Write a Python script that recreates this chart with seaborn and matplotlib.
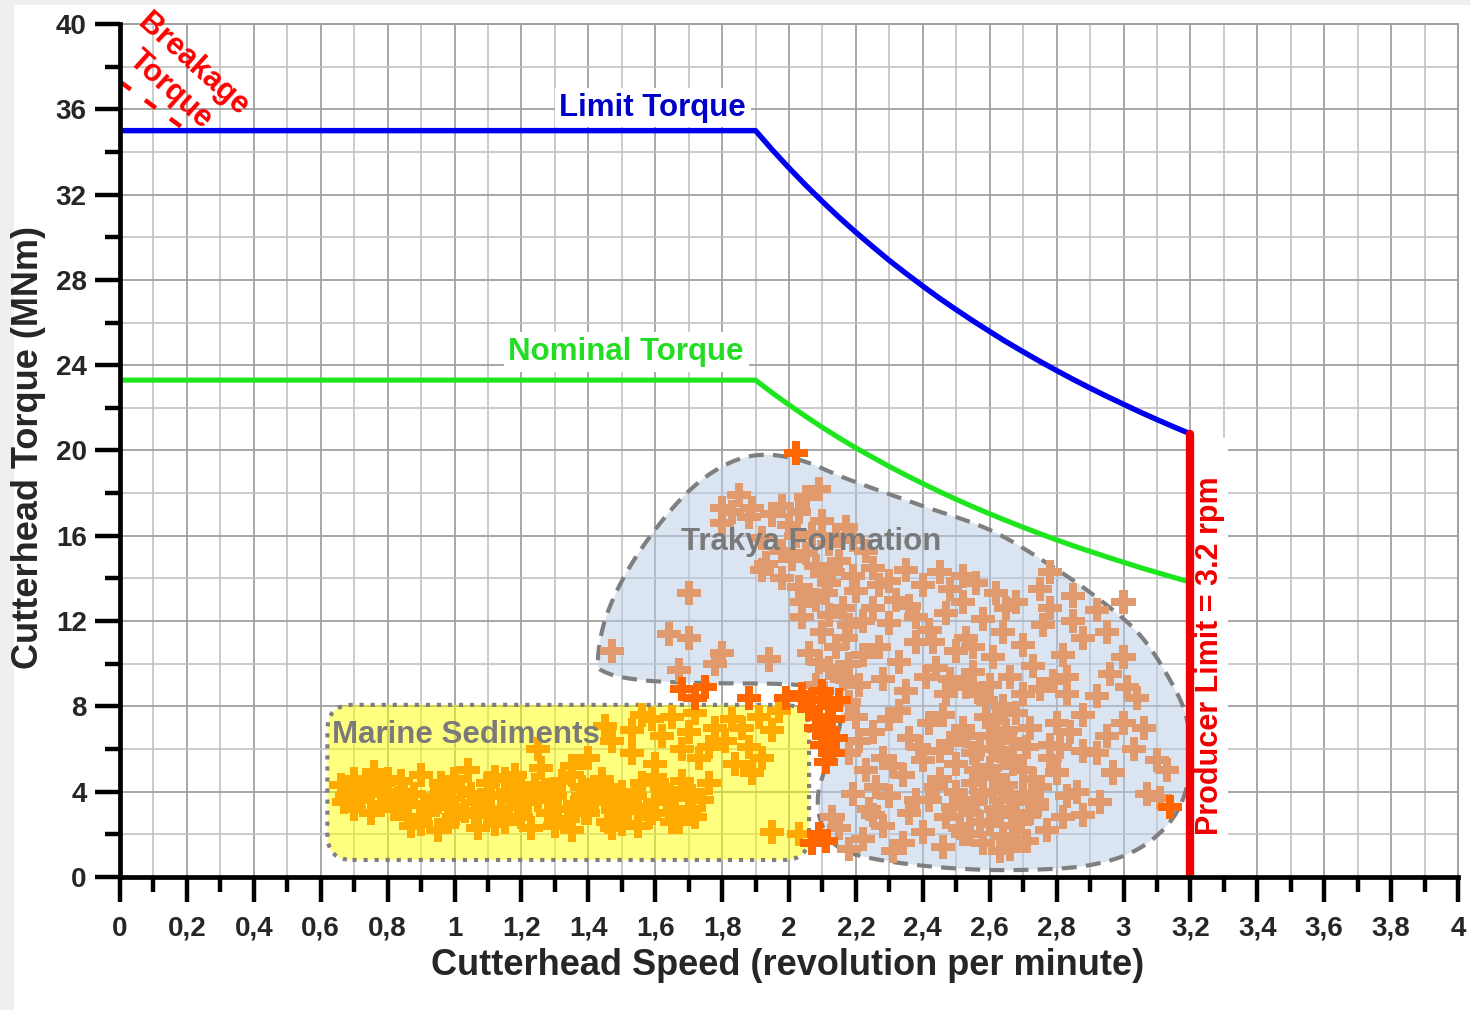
import numpy as np
import pandas as pd
import matplotlib
matplotlib.use("Agg")
import matplotlib.pyplot as plt
import seaborn as sns
from matplotlib.patches import FancyBboxPatch, Polygon, Rectangle
from matplotlib.ticker import FixedLocator, MultipleLocator

# ---------------- data ----------------
limit_x = [0.0, 1.9, 1.95, 2.0, 2.05, 2.1, 2.15, 2.2, 2.25, 2.3, 2.35, 2.4, 2.45, 2.5, 2.55, 2.6,
           2.65, 2.7, 2.75, 2.8, 2.85, 2.9, 2.95, 3.0, 3.05, 3.1, 3.15, 3.2]
limit_y = [35.0, 35.0, 34.10, 33.25, 32.44, 31.67, 30.93, 30.23, 29.56, 28.91, 28.30, 27.71, 27.14,
           26.60, 26.08, 25.58, 25.09, 24.63, 24.18, 23.75, 23.33, 22.93, 22.54, 22.17, 21.80,
           21.45, 21.11, 20.78]
nominal_x = [0.0, 1.9, 1.95, 2.0, 2.05, 2.1, 2.15, 2.2, 2.25, 2.3, 2.35, 2.4, 2.45, 2.5, 2.55, 2.6,
             2.65, 2.7, 2.75, 2.8, 2.85, 2.9, 2.95, 3.0, 3.05, 3.1, 3.15, 3.2]
nominal_y = [23.3, 23.3, 22.70, 22.14, 21.60, 21.08, 20.59, 20.12, 19.68, 19.25, 18.84, 18.45,
             18.07, 17.71, 17.36, 17.03, 16.71, 16.40, 16.10, 15.81, 15.53, 15.27, 15.01, 14.76,
             14.51, 14.28, 14.05, 13.83]
producer_x = [3.2, 3.2]
producer_y = [0.0, 20.78]
breakage_x = [0.0, 0.19]
breakage_y = [37.3, 35.1]

marine_x = [0.66, 0.68, 0.70, 0.72, 0.74, 0.76, 0.78, 0.80, 0.82, 0.84, 0.86, 0.88, 0.90, 0.92, 0.94,
            0.96, 0.98, 1.00, 1.02, 1.04, 1.06, 1.08, 1.10, 1.12, 1.14, 1.16, 1.18, 1.20, 1.22, 1.24,
            1.26, 1.28, 1.30, 1.32, 1.34, 1.36, 1.38, 1.40, 1.42, 1.44, 1.46, 1.48, 1.50, 1.52, 1.54,
            1.56, 1.58, 1.60, 1.62, 1.64, 1.66, 1.68, 1.70, 1.72, 1.74,
            0.70, 0.75, 0.80, 0.85, 0.90, 0.95, 1.00, 1.05, 1.10, 1.15, 1.20, 1.25, 1.30, 1.35, 1.40,
            1.45, 1.50, 1.55, 1.60, 1.65, 1.70, 0.85, 1.00, 1.12, 1.28, 1.38, 0.96, 1.18, 1.46,
            0.67, 0.71, 0.75, 0.79, 0.83, 0.87, 0.91, 0.95, 0.99, 1.03, 1.07, 1.11, 1.15, 1.19, 1.23,
            1.27, 1.31, 1.35, 1.39, 1.43, 1.47, 1.51, 1.55, 1.59, 1.63, 1.67, 1.71,
            1.25, 1.47, 1.53, 1.59, 1.65, 1.72, 1.78, 1.83, 1.91, 1.95, 1.53, 1.60, 1.68, 1.73, 1.84,
            1.89, 1.95, 1.81, 1.88, 2.03, 1.76, 1.66,
            1.40, 1.45, 1.62, 1.70, 1.76, 1.86, 1.92, 1.56, 1.97, 1.35]
marine_y = [4.3, 3.8, 4.6, 3.6, 4.2, 4.9, 3.4, 4.0, 3.2, 4.5, 2.8, 3.9, 4.8, 3.0, 3.7,
            4.4, 2.6, 3.3, 4.1, 5.0, 2.9, 3.6, 4.4, 2.5, 3.2, 4.0, 4.8, 2.8, 3.5, 4.3,
            5.1, 3.0, 3.8, 4.5, 2.7, 3.4, 4.2, 3.0, 3.7, 4.6, 2.6, 3.3, 4.0, 3.1, 3.8,
            4.4, 2.8, 3.5, 4.2, 3.0, 3.7, 4.5, 3.2, 2.8, 3.6,
            3.2, 3.9, 4.6, 3.5, 2.5, 3.5, 4.6, 3.9, 3.1, 2.6, 4.2, 3.6, 2.4, 4.8, 4.1,
            3.5, 2.5, 3.3, 4.7, 2.6, 4.0, 4.0, 2.8, 4.7, 4.1, 3.6, 3.9, 3.7, 4.2,
            3.5, 4.1, 3.0, 4.4, 3.7, 2.4, 3.4, 2.2, 4.2, 3.1, 2.3, 3.8, 4.6, 3.3, 2.3,
            4.0, 3.2, 2.2, 3.0, 4.0, 2.3, 3.6, 2.4, 3.0, 4.1, 2.6, 3.8,
            6.0, 6.4, 6.9, 7.4, 7.5, 7.7, 7.0, 7.4, 7.5, 6.9, 5.8, 5.3, 6.0, 5.6, 5.3,
            4.9, 2.1, 6.4, 6.1, 2.0, 4.4, 3.2,
            5.6, 7.1, 6.6, 6.8, 6.1, 7.0, 5.6, 7.6, 7.8, 5.2]

transition_x = [1.68, 1.75, 1.72, 1.88, 1.99, 2.04, 2.07, 2.10, 2.12, 2.06, 2.09, 2.13, 2.11, 2.14,
                2.10, 2.13, 2.08, 2.15, 2.11, 2.02, 2.09, 2.11, 2.07, 3.14]
transition_y = [8.8, 8.9, 8.4, 8.4, 8.4, 8.6, 8.3, 8.7, 8.0, 7.9, 7.5, 7.4, 6.9, 6.5,
                6.2, 5.8, 7.0, 8.3, 5.4, 19.9, 2.0, 1.7, 1.6, 3.3]

trakya_x = [1.80, 1.85, 1.80, 1.88, 1.95, 2.00, 2.05, 2.10, 2.17, 1.92, 1.98, 2.02, 2.05, 2.08, 2.12,
            2.15, 1.93, 1.98, 2.03, 2.08, 2.12, 2.16, 2.04, 2.10, 2.14, 2.06, 2.12, 2.16, 2.08, 2.18,
            2.20, 2.22, 2.18,
            2.25, 2.30, 2.35, 2.40, 2.45, 2.48, 2.52, 2.56, 2.62, 2.68, 2.75, 2.78, 2.85, 2.92, 3.00,
            2.25, 2.30, 2.36, 2.42, 2.47, 2.53, 2.58, 2.64, 2.70, 2.76, 2.82, 2.88, 2.27, 2.33, 2.38,
            2.44, 2.50, 2.55, 2.61, 2.66, 2.73, 2.79, 2.28, 2.35, 2.41, 2.47, 2.53, 2.59, 2.64, 2.70,
            2.75, 2.83, 3.00, 3.01, 3.04, 2.83,
            2.20, 2.25, 2.30, 2.36, 2.42, 2.48, 2.52, 2.57, 2.62, 2.67, 2.72, 2.78, 2.84, 2.88, 2.18,
            2.23, 2.28, 2.34, 2.40, 2.45, 2.50, 2.55, 2.60, 2.65, 2.70, 2.75, 2.80, 2.86, 2.19, 2.24,
            2.30, 2.36, 2.42, 2.47, 2.52, 2.57, 2.62, 2.67, 2.72, 2.77, 2.82, 2.15, 2.22, 2.28, 2.34,
            2.40, 2.46, 2.52, 2.58, 2.63, 2.68, 2.58, 2.62, 2.66, 2.55, 2.64, 2.60, 2.50, 2.70, 2.68,
            2.74, 2.60, 2.54, 2.64, 2.74, 2.66,
            2.81, 2.95, 3.00, 3.06, 2.92, 3.03, 3.10, 3.11, 3.13, 2.97, 2.93, 3.07,
            1.47, 1.70, 1.64, 1.70, 1.80, 1.78, 1.67, 1.94, 1.92, 1.89, 1.83, 2.09, 1.98, 2.03,
            2.45, 2.49, 2.53, 2.56, 2.59, 2.61, 2.63, 2.65, 2.67, 2.69, 2.71, 2.73, 2.46, 2.51, 2.56,
            2.61, 2.66, 2.71, 2.44, 2.39, 2.33, 2.38, 2.31, 2.26, 2.21, 2.57, 2.48, 2.43, 2.38, 2.32,
            2.27, 2.23, 2.19, 2.14, 2.10, 2.06, 2.12, 2.18, 2.21, 2.60, 2.55, 2.65, 2.52, 2.78, 2.85,
            2.95, 2.88, 2.92, 2.96, 2.80, 2.78, 2.83, 2.88, 2.13, 2.18, 2.25, 2.31,
            2.01, 2.07, 2.13, 2.19, 2.04, 2.11, 2.17, 2.09, 2.15, 2.22, 2.58, 2.63, 2.54, 2.68]
trakya_y = [17.3, 17.9, 16.6, 16.9, 17.0, 16.5, 17.8, 16.7, 16.4, 15.9, 15.3, 16.0, 15.2, 14.6, 15.6,
            14.8, 14.7, 14.0, 13.6, 13.0, 13.8, 12.6, 12.2, 11.5, 10.8, 10.5, 9.8, 9.3, 9.0, 11.8,
            13.4, 10.4, 8.2,
            14.5, 13.9, 14.4, 13.7, 14.3, 13.5, 14.1, 13.8, 13.3, 12.9, 13.5, 12.6, 12.0, 12.5, 12.9,
            12.6, 11.9, 12.7, 11.6, 12.4, 11.2, 12.1, 11.5, 10.9, 11.8, 10.4, 11.2, 10.8, 10.1, 11.0,
            9.8, 10.6, 9.6, 10.3, 9.4, 9.9, 9.2, 9.3, 8.7, 9.4, 8.6, 8.9, 8.3, 8.0, 8.6,
            8.8, 9.4, 10.3, 8.9, 8.4, 8.6,
            7.5, 6.8, 7.4, 6.5, 7.2, 6.3, 7.0, 6.0, 7.3, 6.4, 7.0, 6.2, 6.8, 5.9, 5.8,
            5.0, 5.6, 4.8, 5.5, 4.6, 5.3, 4.4, 5.1, 4.3, 5.0, 4.2, 4.9, 4.0, 3.9, 3.2,
            3.8, 3.0, 3.6, 2.8, 3.4, 2.6, 3.2, 2.4, 3.0, 2.2, 2.8, 2.3, 1.8, 2.4, 1.6,
            2.1, 1.4, 2.0, 1.6, 1.2, 1.8, 3.9, 4.7, 3.6, 5.8, 5.6, 6.6, 4.0, 3.9, 2.9,
            3.5, 2.5, 3.0, 1.9, 3.3, 5.6,
            6.1, 6.6, 7.2, 7.0, 5.8, 6.0, 5.5, 3.7, 5.0, 4.9, 3.5, 3.9,
            10.6, 13.3, 11.4, 11.2, 10.5, 10.0, 9.7, 10.2, 14.4, 17.3, 17.1, 18.2, 17.4, 17.1,
            5.9, 3.3, 6.6, 5.0, 7.5, 4.0, 2.9, 6.9, 5.3, 2.6, 6.1, 4.6, 7.6, 2.3, 3.6,
            6.0, 1.3, 1.7, 4.2, 6.1, 7.8, 3.6, 5.2, 4.2, 6.4, 8.6, 9.3, 11.0, 12.2, 13.0,
            13.7, 15.3, 14.1, 16.0, 14.2, 13.2, 12.3, 10.0, 9.0, 9.0, 10.8, 12.6, 12.9, 14.3, 13.2,
            11.5, 7.6, 8.5, 9.5, 7.2, 5.6, 3.8, 2.9, 2.8, 1.3, 2.9, 1.2,
            14.9, 16.1, 14.3, 15.8, 12.9, 13.3, 11.2, 10.1, 9.6, 12.0, 4.8, 5.9, 2.0, 7.7]

# shape outlines (data coordinates)
trakya_outline_x = [1.429, 1.450, 1.510, 1.599, 1.704, 1.809, 1.913, 2.033, 2.182, 2.392, 2.601,
                    2.780, 2.930, 3.049, 3.139, 3.190, 3.199, 3.154, 3.049, 2.900, 2.691, 2.481,
                    2.272, 2.152, 2.099, 2.087, 2.117, 2.152, 2.146, 2.093, 1.973, 1.734, 1.555, 1.450]
trakya_outline_y = [10.18, 12.05, 14.16, 16.27, 18.15, 19.32, 19.79, 19.55, 18.62, 17.44, 16.27,
                    14.63, 12.99, 11.35, 9.24, 7.36, 5.02, 2.91, 1.36, 0.56, 0.33, 0.42,
                    0.80, 1.36, 2.44, 3.85, 5.49, 7.13, 8.30, 8.86, 9.05, 9.10, 9.24, 9.61]
marine_box = [0.62, 0.80, 2.06, 8.07]  # x0, y0, x1, y1

x_tick_vals = [0, 0.2, 0.4, 0.6, 0.8, 1.0, 1.2, 1.4, 1.6, 1.8, 2.0, 2.2, 2.4, 2.6, 2.8, 3.0,
               3.2, 3.4, 3.6, 3.8, 4.0]
x_tick_labels = ["0", "0,2", "0,4", "0,6", "0,8", "1", "1,2", "1,4", "1,6", "1,8", "2", "2,2",
                 "2,4", "2,6", "2,8", "3", "3,2", "3,4", "3,6", "3,8", "4"]
y_tick_vals = [0, 4, 8, 12, 16, 20, 24, 28, 32, 36, 40]
y_tick_labels = ["0", "4", "8", "12", "16", "20", "24", "28", "32", "36", "40"]

# ---------------- style ----------------
sns.set_style("white")
plt.rcParams["font.family"] = ["Liberation Sans", "DejaVu Sans"]
plt.rcParams["font.weight"] = "bold"

W, H = 1470, 1010
fig = plt.figure(figsize=(W / 100, H / 100), dpi=100)
fig.patch.set_facecolor("#efefef")
fig.add_artist(Rectangle((14 / W, 0), 1, 1 - 5 / H, transform=fig.transFigure,
                         facecolor="white", edgecolor="none", zorder=-10))
ax = fig.add_axes([120 / W, 1 - 877 / H, (1458 - 120) / W, (877 - 24) / H])
ax.set_facecolor("white")

# isotropic scale (pixels per data unit)
sx, sy = 1338 / 4.0, 853 / 40.0


def smooth_closed(xs, ys, n=24):
    P = np.column_stack([np.asarray(xs) * sx, np.asarray(ys) * sy])
    N = len(P)
    out = []
    t = np.linspace(0, 1, n, endpoint=False)[:, None]
    for i in range(N):
        p0, p1, p2, p3 = P[i - 1], P[i], P[(i + 1) % N], P[(i + 2) % N]
        seg = 0.5 * ((2 * p1) + (-p0 + p2) * t + (2 * p0 - 5 * p1 + 4 * p2 - p3) * t ** 2
                     + (-p0 + 3 * p1 - 3 * p2 + p3) * t ** 3)
        out.append(seg)
    out = np.vstack(out)
    return np.column_stack([out[:, 0] / sx, out[:, 1] / sy])


# Trakya formation region
tr = smooth_closed(trakya_outline_x, trakya_outline_y)
ax.add_patch(Polygon(tr, closed=True, facecolor="#B9CDE5", alpha=0.5, edgecolor="none", zorder=1))
ax.add_patch(Polygon(tr, closed=True, facecolor="none", edgecolor="#7f7f7f", lw=3.0,
                     linestyle=(0, (3.6, 2.2)), zorder=2))

# Marine sediments box
bx0, by0, bx1, by1 = marine_box
asp = sx / sy
for fc, ec, a, z in [("#FFFF00", "none", 0.5, 1), ("none", "#7f7f7f", 1.0, 2)]:
    ax.add_patch(FancyBboxPatch((bx0, by0), bx1 - bx0, by1 - by0,
                                boxstyle="round,pad=0,rounding_size=0.075",
                                mutation_aspect=asp, facecolor=fc, edgecolor=ec,
                                alpha=a, lw=3.0, linestyle=":", zorder=z))

# scatter data
df = pd.DataFrame({
    "speed": trakya_x + marine_x + transition_x,
    "torque": trakya_y + marine_y + transition_y,
    "group": (["Trakya"] * len(trakya_x) + ["Marine"] * len(marine_x)
              + ["Transition"] * len(transition_x)),
})
sns.scatterplot(data=df, x="speed", y="torque", hue="group",
                hue_order=["Trakya", "Marine", "Transition"],
                palette={"Trakya": "#E19A6E", "Marine": "#FFAA00", "Transition": "#FF6600"},
                marker="P", s=300, linewidth=0, legend=False, zorder=3, ax=ax)

# torque curves
sns.lineplot(x=limit_x, y=limit_y, color="#0000F0", lw=3.9, sort=False, estimator=None,
             ax=ax, zorder=4)
sns.lineplot(x=nominal_x, y=nominal_y, color="#1EE61E", lw=3.7, sort=False, estimator=None,
             ax=ax, zorder=4)

# producer limit
ax.add_patch(Rectangle((3.208, 0.1), 0.104, 20.5, facecolor="white", edgecolor="none", zorder=2.5))
sns.lineplot(x=producer_x, y=producer_y, color="#F00000", lw=6, sort=False, estimator=None,
             ax=ax, zorder=5)
ax.text(3.259, 10.4, "Producer Limit = 3.2 rpm", rotation=90, color="#F00000",
        fontsize=22, fontweight="bold", ha="center", va="center", zorder=6)

# breakage torque
sns.lineplot(x=breakage_x, y=breakage_y, color="#FF0000", lw=3.2, sort=False, estimator=None,
             ax=ax, zorder=5, linestyle=(0, (3, 4)))
ax.text(0.185, 37.5, "Breakage\nTorque", rotation=-42, rotation_mode="anchor", color="#FF0000",
        fontsize=22, fontweight="bold", ha="center", va="center", multialignment="center",
        linespacing=1.2, zorder=6)

# curve labels
ax.text(1.593, 35.7, "Limit Torque", color="#0000C8", fontsize=22.5, fontweight="bold",
        ha="center", va="baseline", zorder=6,
        bbox=dict(boxstyle="square,pad=0.15", facecolor="white", edgecolor="none"))
ax.text(1.513, 24.25, "Nominal Torque", color="#22DD22", fontsize=22.5, fontweight="bold",
        ha="center", va="baseline", zorder=6,
        bbox=dict(boxstyle="square,pad=0.15", facecolor="white", edgecolor="none"))
ax.text(2.066, 15.33, "Trakya Formation", color="#7a7a7a", fontsize=22.5, fontweight="bold",
        ha="center", va="baseline", zorder=6)
ax.text(0.634, 6.28, "Marine Sediments", color="#7a7a7a", fontsize=22.5, fontweight="bold",
        ha="left", va="baseline", zorder=6)

# axes formatting
ax.set_xlim(0, 4)
ax.set_ylim(0, 40)
ax.xaxis.set_major_locator(FixedLocator(x_tick_vals))
ax.set_xticklabels(x_tick_labels)
ax.yaxis.set_major_locator(FixedLocator(y_tick_vals))
ax.set_yticklabels(y_tick_labels)
ax.xaxis.set_minor_locator(MultipleLocator(0.1))
ax.yaxis.set_minor_locator(MultipleLocator(2))
ax.tick_params(axis="both", which="major", direction="out", length=18, width=3.2,
               color="black", labelsize=20, bottom=True, left=True)
ax.tick_params(axis="x", which="major", pad=10)
ax.tick_params(axis="y", which="major", pad=6)
ax.tick_params(axis="both", which="minor", direction="out", length=11, width=3.2,
               color="black", bottom=True, left=True)
for lab in ax.get_xticklabels() + ax.get_yticklabels():
    lab.set_fontweight("bold")

ax.set_axisbelow(True)
ax.grid(which="major", color="#a0a0a0", lw=1.3)
ax.grid(which="minor", color="#c2c2c2", lw=1.2)
for side in ["left", "bottom"]:
    ax.spines[side].set_color("black")
    ax.spines[side].set_linewidth(3.4)
    ax.spines[side].set_zorder(7)
for side in ["top", "right"]:
    ax.spines[side].set_color("#a0a0a0")
    ax.spines[side].set_linewidth(1.4)

ax.set_xlabel("Cutterhead Speed (revolution per minute)", fontsize=26, fontweight="bold")
ax.set_ylabel("Cutterhead Torque (MNm)", fontsize=26, fontweight="bold")
ax.xaxis.set_label_coords(0.499, -0.083)
ax.yaxis.set_label_coords(-0.0555, 0.504)

fig.savefig("out.png", dpi=100, facecolor=fig.get_facecolor())
